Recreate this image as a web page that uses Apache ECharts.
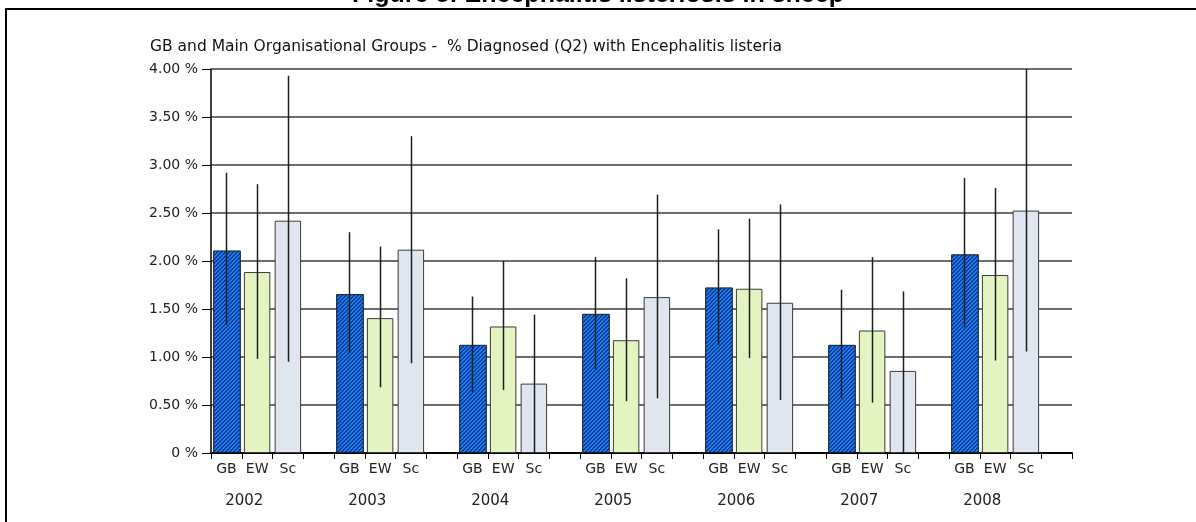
<!DOCTYPE html>
<html>
<head>
<meta charset="utf-8">
<script src="https://cdn.jsdelivr.net/npm/echarts@6/dist/echarts.min.js"></script>
<style>
html,body{margin:0;padding:0;background:#fff;}
#chart{width:1196px;height:522px;}
</style>
</head>
<body>
<div id="chart"></div>
<script>
const figureTitle = 'Figure 8: Encephalitis listeriosis in sheep';
const chartTitle = 'GB and Main Organisational Groups -  % Diagnosed (Q2) with Encephalitis listeria';
const years = ['2002', '2003', '2004', '2005', '2006', '2007', '2008'];
const groups = ['GB', 'EW', 'Sc'];
const gbValues = [2.11, 1.655, 1.127, 1.45, 1.725, 1.127, 2.07];
const ewValues = [1.885, 1.405, 1.318, 1.175, 1.711, 1.276, 1.854];
const scValues = [2.42, 2.118, 0.723, 1.624, 1.565, 0.855, 2.525];
const gbLow = [1.335, 1.04, 0.63, 0.873, 1.127, 0.57, 1.31];
const gbHigh = [2.92, 2.30, 1.63, 2.04, 2.33, 1.70, 2.866];
const ewLow = [0.98, 0.685, 0.657, 0.54, 0.988, 0.525, 0.963];
const ewHigh = [2.80, 2.15, 2.00, 1.82, 2.44, 2.04, 2.76];
const scLow = [0.95, 0.935, 0, 0.57, 0.553, 0, 1.057];
const scHigh = [3.93, 3.30, 1.44, 2.69, 2.59, 1.683, 4.00];
const yMin = 0, yMax = 4, yStep = 0.5;

// hatched pattern for GB
const pat = document.createElement('canvas');
pat.width = 4; pat.height = 4;
const pctx = pat.getContext('2d');
for (let x = 0; x < 4; x++) {
  for (let y = 0; y < 4; y++) {
    pctx.fillStyle = ((x + y) % 4 < 2) ? '#0b3f98' : '#1a7cf2';
    pctx.fillRect(x, y, 1, 1);
  }
}

const slotsPerYear = groups.length + 1;
const categories = [];
years.forEach(() => { groups.forEach(g => categories.push(g)); categories.push(''); });
const yearAxisData = new Array(categories.length + 1).fill('');
years.forEach((y, i) => { yearAxisData[i * slotsPerYear + 1] = y; });

function slotData(vals, g) {
  const d = new Array(categories.length).fill('-');
  vals.forEach((v, i) => { d[i * slotsPerYear + g] = v; });
  return d;
}
const errData = [];
[[gbLow, gbHigh], [ewLow, ewHigh], [scLow, scHigh]].forEach((pair, g) => {
  years.forEach((y, i) => errData.push([i * slotsPerYear + g, pair[0][i], pair[1][i]]));
});

const fillStyles = [
  { color: { image: pat, repeat: 'repeat' }, borderColor: '#1a1a1a', borderWidth: 1 },
  { color: '#e3f4c1', borderColor: '#3a3a3a', borderWidth: 1 },
  { color: '#dfe6ef', borderColor: '#3a3a3a', borderWidth: 1 }
];
const font = 'DejaVu Sans';

const chart = echarts.init(document.getElementById('chart'), null, { renderer: 'canvas' });
chart.setOption({
  animation: false,
  backgroundColor: '#fff',
  grid: { left: 211, right: 124, top: 69, bottom: 69 },
  xAxis: [{
    type: 'category',
    data: categories,
    boundaryGap: true,
    axisLine: { lineStyle: { color: '#000', width: 2 } },
    axisTick: { show: true, interval: 0, length: 6, lineStyle: { color: '#000', width: 1 } },
    axisLabel: { interval: 0, margin: 9, color: '#222', fontFamily: font, fontSize: 14 },
    splitLine: { show: false }
  }, {
    type: 'category',
    position: 'bottom',
    data: yearAxisData,
    boundaryGap: false,
    axisLine: { show: false },
    axisTick: { show: false },
    axisLabel: { interval: 0, margin: 41, color: '#222', fontFamily: font, fontSize: 15, padding: [0, 0, 0, 5] },
    splitLine: { show: false }
  }],
  yAxis: {
    type: 'value',
    min: yMin, max: yMax, interval: yStep,
    axisLine: { show: true, lineStyle: { color: '#000', width: 1.5 } },
    axisTick: { show: true, length: 9, lineStyle: { color: '#000', width: 1 } },
    axisLabel: {
      margin: 13, color: '#222', fontFamily: font, fontSize: 14,
      formatter: v => v === 0 ? '0 %' : v.toFixed(2) + ' %'
    },
    splitLine: { show: true, lineStyle: { color: '#3c3c3c', width: 1.5 } }
  },
  series: [
    { type: 'bar', name: groups[0], data: slotData(gbValues, 0), barWidth: '90%', barGap: '-100%', itemStyle: fillStyles[0] },
    { type: 'bar', name: groups[1], data: slotData(ewValues, 1), barWidth: '86%', barGap: '-100%', itemStyle: fillStyles[1] },
    { type: 'bar', name: groups[2], data: slotData(scValues, 2), barWidth: '86%', barGap: '-100%', itemStyle: fillStyles[2] },
    {
      type: 'custom',
      data: errData,
      z: 10,
      renderItem: function (params, api) {
        const top = api.coord([api.value(0), api.value(2)]);
        const bot = api.coord([api.value(0), api.value(1)]);
        const x = Math.round(top[0]) + 0.5;
        return {
          type: 'line',
          shape: { x1: x, y1: top[1], x2: x, y2: bot[1] },
          style: { stroke: '#1e1e1e', lineWidth: 1.5 }
        };
      }
    }
  ],
  graphic: [
    { type: 'text', left: 'center', top: -17, style: { text: figureTitle, font: 'bold 25px "Liberation Sans", Arial', fill: '#000' } },
    { type: 'line', shape: { x1: 5, y1: 9, x2: 1196, y2: 9 }, style: { stroke: '#000', lineWidth: 2 } },
    { type: 'line', shape: { x1: 6, y1: 8, x2: 6, y2: 522 }, style: { stroke: '#000', lineWidth: 2 } },
    { type: 'text', left: 150, top: 39, style: { text: chartTitle, font: '15.5px "DejaVu Sans"', fill: '#111' } }
  ]
});
</script>
</body>
</html>
